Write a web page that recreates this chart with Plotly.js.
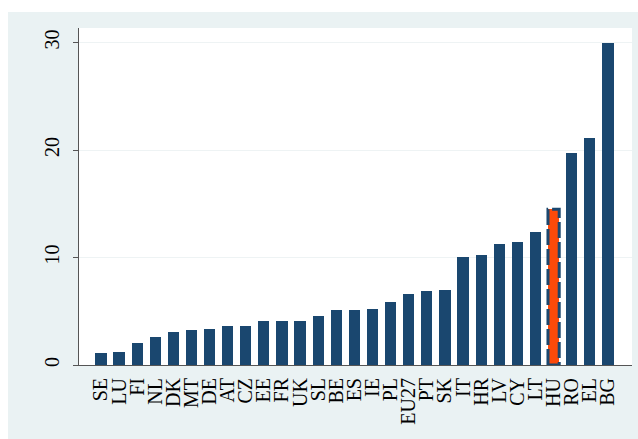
<!DOCTYPE html>
<html><head><meta charset="utf-8">
<script src="https://cdn.plot.ly/plotly-3.0.1.min.js"></script>
<style>
html,body{margin:0;padding:0;background:#ffffff;width:638px;height:439px;overflow:hidden}
#chart{position:absolute;left:8px;top:12px;width:630px;height:427px}
</style></head><body>
<div id="chart"></div>
<script>
const countries = ["SE","LU","FI","NL","DK","MT","DE","AT","CZ","EE","FR","UK","SL","BE","ES","IE","PL","EU27","PT","SK","IT","HR","LV","CY","LT","HU","RO","EL","BG"];
const values = [1.08,1.17,2.07,2.57,3.04,3.29,3.38,3.66,3.66,4.09,4.09,4.09,4.53,5.08,5.08,5.18,5.89,6.57,6.88,6.98,10.08,10.26,11.26,11.47,12.37,14.5,19.7,21.1,30.0];
const highlight = "HU";
const yTicks = [0,10,20,30];

const navy = "#1a476f";
const orange = "#fc4a0a";
const idx = countries.map((c,i)=>i);
const hi = countries.indexOf(highlight);
const barW = 0.62;

const bars = {
  type:"bar", x: idx, y: values, width: barW,
  marker:{color: countries.map(c => c===highlight ? orange : navy), line:{width:0}},
  hoverinfo:"x+y"
};
const outline = {
  type:"scatter", mode:"lines",
  x:[hi-barW/2, hi-barW/2, hi+barW/2, hi+barW/2, hi-barW/2],
  y:[0, values[hi], values[hi], 0, 0],
  line:{color:navy, width:3, dash:"16px,4px"},
  hoverinfo:"skip", showlegend:false
};

const layout = {
  width:630, height:427,
  margin:{l:71, r:6, t:16, b:74},
  paper_bgcolor:"#eaf2f3",
  plot_bgcolor:"#ffffff",
  showlegend:false,
  bargap:0,
  xaxis:{
    range:[-1.21, 29.33],
    tickmode:"array", tickvals: idx, ticktext: countries,
    tickangle:-90, ticks:"", showgrid:false, zeroline:false,
    showline:true, linecolor:"#555555", linewidth:1,
    tickfont:{family:"Liberation Serif, Times New Roman, serif", size:20, color:"#000000"},
    ticklabelstandoff:4
  },
  yaxis:{
    range:[0, 31.35],
    tickmode:"array", tickvals:yTicks, ticktext:yTicks.map(String),
    tickangle:-90, ticks:"outside", ticklen:5, tickcolor:"#555555",
    showline:true, linecolor:"#555555", linewidth:1,
    showgrid:true, gridcolor:"#eef3f4", gridwidth:1, zeroline:false,
    tickfont:{family:"Liberation Serif, Times New Roman, serif", size:20, color:"#000000"},
    ticklabelstandoff:6
  }
};
Plotly.newPlot("chart",[bars, outline],layout,{displayModeBar:false, staticPlot:true});
</script></body></html>
